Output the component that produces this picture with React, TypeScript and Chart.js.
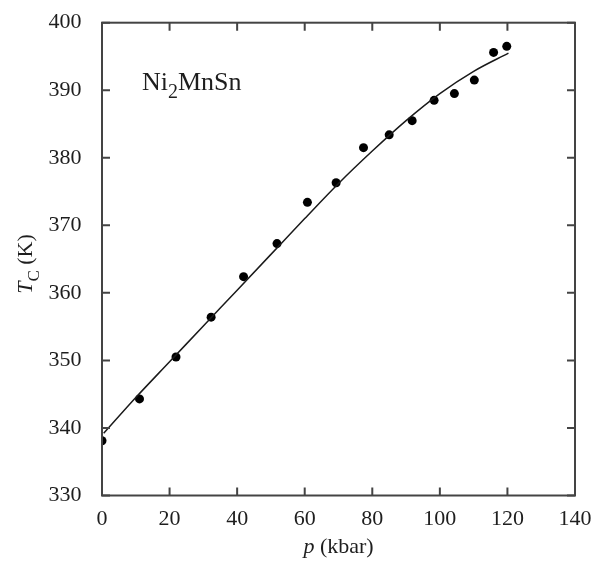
import React, { useEffect, useRef } from "react";
import { Chart, registerables } from "chart.js";

Chart.register(...registerables);

// Measured data points: pressure p (kbar) and Curie temperature Tc (K)
const pointP = [0, 11.1, 21.9, 32.3, 41.9, 51.8, 60.8, 69.3, 77.4, 85.0, 91.8, 98.3, 104.3, 110.2, 115.9, 119.8];
const pointTc = [338.1, 344.3, 350.5, 356.4, 362.4, 367.3, 373.4, 376.3, 381.5, 383.4, 385.5, 388.5, 389.5, 391.5, 395.6, 396.5];

// Fitted curve
const curveP = [0.5, 10, 20, 30, 40, 50, 60, 70, 80, 90, 100, 110, 120.3];
const curveTc = [339.2, 344.5, 349.8, 355.1, 360.4, 365.7, 371.0, 376.2, 381.0, 385.5, 389.5, 392.8, 395.5];

const xTicks = [0, 20, 40, 60, 80, 100, 120, 140];
const yTicks = [330, 340, 350, 360, 370, 380, 390, 400];

const SERIF = "'Liberation Serif', 'DejaVu Serif', serif";
const TEXT = "#1e1e1e";
const AXIS = "#444444";

const framePlugin = {
  id: "frame",
  afterDraw(chart: any) {
    const { ctx, chartArea } = chart;
    const { left, right, top, bottom } = chartArea;
    const xs = chart.scales.x;
    const ys = chart.scales.y;
    ctx.save();
    ctx.strokeStyle = AXIS;
    ctx.lineWidth = 2;
    ctx.strokeRect(left, top, right - left, bottom - top);
    const tl = 8;
    ctx.beginPath();
    xTicks.forEach((v) => {
      const px = xs.getPixelForValue(v);
      ctx.moveTo(px, bottom);
      ctx.lineTo(px, bottom - tl);
      ctx.moveTo(px, top);
      ctx.lineTo(px, top + tl);
    });
    yTicks.forEach((v) => {
      const py = ys.getPixelForValue(v);
      ctx.moveTo(left, py);
      ctx.lineTo(left + tl, py);
      ctx.moveTo(right, py);
      ctx.lineTo(right - tl, py);
    });
    ctx.stroke();

    ctx.fillStyle = TEXT;
    ctx.textBaseline = "alphabetic";
    ctx.textAlign = "left";
    // x title: "p (kbar)"
    const fs = 22;
    const it = `italic ${fs}px ${SERIF}`;
    const nf = `${fs}px ${SERIF}`;
    const sf = `${Math.round(fs * 0.75)}px ${SERIF}`;
    ctx.font = it;
    const wp = ctx.measureText("p").width;
    ctx.font = nf;
    const wk = ctx.measureText(" (kbar)").width;
    const cx = (left + right) / 2;
    const x0 = cx - (wp + wk) / 2;
    const by = 553;
    ctx.font = it;
    ctx.fillText("p", x0, by);
    ctx.font = nf;
    ctx.fillText(" (kbar)", x0 + wp, by);

    // y title: "T_C (K)" rotated
    ctx.save();
    ctx.translate(32, 264);
    ctx.rotate(-Math.PI / 2);
    ctx.font = it;
    const wT = ctx.measureText("T").width;
    ctx.font = sf;
    const wC = ctx.measureText("C").width;
    ctx.font = nf;
    const wK = ctx.measureText(" (K)").width;
    const sx = -(wT + wC + wK) / 2;
    ctx.font = it;
    ctx.fillText("T", sx, 0);
    ctx.font = sf;
    ctx.fillText("C", sx + wT, 7);
    ctx.font = nf;
    ctx.fillText(" (K)", sx + wT + wC, 0);
    ctx.restore();

    // annotation Ni2MnSn
    const afs = 26;
    const anf = `${afs}px ${SERIF}`;
    const asf = `${Math.round(afs * 0.75)}px ${SERIF}`;
    const ax = 142;
    const ay = 90;
    ctx.font = anf;
    const wNi = ctx.measureText("Ni").width;
    ctx.fillText("Ni", ax, ay);
    ctx.font = asf;
    const w2 = ctx.measureText("2").width;
    ctx.fillText("2", ax + wNi, ay + 8);
    ctx.font = anf;
    ctx.fillText("MnSn", ax + wNi + w2, ay);
    ctx.restore();
  },
};

export default function App() {
  const ref = useRef<HTMLCanvasElement>(null);
  useEffect(() => {
    if (!ref.current) return;
    const chart = new Chart(ref.current, {
      type: "scatter",
      data: {
        datasets: [
          {
            label: "fit",
            data: curveP.map((p, i) => ({ x: p, y: curveTc[i] })),
            showLine: true,
            borderColor: "#1a1a1a",
            borderWidth: 1.5,
            pointRadius: 0,
            cubicInterpolationMode: "monotone",
            fill: false,
          },
          {
            label: "data",
            data: pointP.map((p, i) => ({ x: p, y: pointTc[i] })),
            showLine: false,
            pointRadius: 4.5,
            pointBackgroundColor: "#000",
            pointBorderColor: "#000",
            pointBorderWidth: 0,
          },
        ],
      },
      options: {
        animation: false,
        responsive: true,
        maintainAspectRatio: false,
        layout: { padding: { top: 22.7, right: 17, left: 0, bottom: 0 } },
        plugins: {
          legend: { display: false },
          tooltip: { enabled: false },
        },
        scales: {
          x: {
            type: "linear",
            min: 0,
            max: 140,
            afterBuildTicks: (s: any) => {
              s.ticks = xTicks.map((v) => ({ value: v }));
            },
            afterFit: (s: any) => {
              s.height = 67.5;
              s.paddingLeft = 0;
              s.paddingRight = 0;
            },
            grid: { display: false },
            border: { display: false },
            ticks: {
              color: TEXT,
              font: { family: SERIF, size: 22 },
              padding: 3,
              maxRotation: 0,
            },
          },
          y: {
            type: "linear",
            min: 330,
            max: 400,
            afterBuildTicks: (s: any) => {
              s.ticks = yTicks.map((v) => ({ value: v }));
            },
            afterFit: (s: any) => {
              s.width = 102;
              s.paddingTop = 0;
              s.paddingBottom = 0;
            },
            grid: { display: false },
            border: { display: false },
            ticks: {
              color: TEXT,
              font: { family: SERIF, size: 22 },
              padding: 12.5,
            },
          },
        },
      },
      plugins: [framePlugin],
    } as any);
    return () => chart.destroy();
  }, []);
  return (
    <div style={{ position: "fixed", left: 0, top: 0, width: 592, height: 563, background: "#fff" }}>
      <canvas ref={ref} />
    </div>
  );
}
